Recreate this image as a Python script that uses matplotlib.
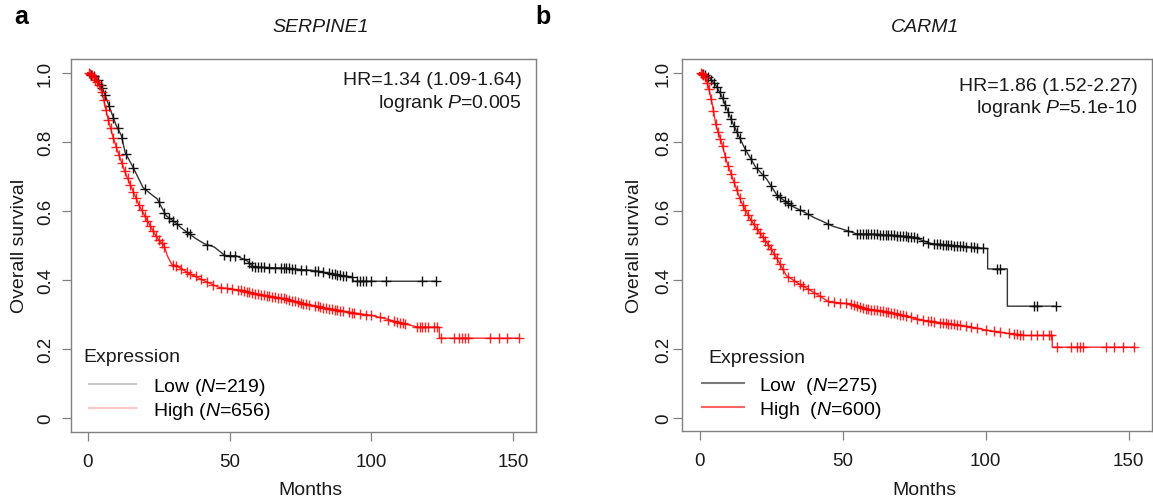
import numpy as np
import matplotlib.pyplot as plt
from matplotlib.lines import Line2D

plt.rcParams['font.family'] = ['Liberation Sans', 'DejaVu Sans']
plt.rcParams['mathtext.fontset'] = 'custom'
plt.rcParams['mathtext.rm'] = 'Liberation Sans'
plt.rcParams['mathtext.it'] = 'Liberation Sans:italic'

# ---- panel a : SERPINE1 ----
a_low_t = [0, 2, 3.6, 5.5, 7.4, 9.9, 11.8, 13.1, 15.6, 17.5, 19.4, 22, 24.4, 26, 27.6, 30.7, 33,
           35.8, 38, 41, 44.6, 48.4, 52.2, 56, 58.5, 69.8, 75, 80, 83, 86.2, 89, 93.2, 93.8, 122.8]
a_low_s = [1.0, 0.99, 0.977, 0.948, 0.905, 0.849, 0.818, 0.77, 0.731, 0.70, 0.668, 0.65, 0.635, 0.61,
           0.586, 0.567, 0.55, 0.533, 0.52, 0.505, 0.495, 0.47, 0.47, 0.456, 0.437, 0.434, 0.43, 0.427,
           0.422, 0.418, 0.413, 0.408, 0.396, 0.396]
a_low_cens = [1, 2, 3.5, 4.5, 5, 6, 7.5, 9, 10.5, 12, 13.5, 16, 20, 25, 27, 28.5, 30, 31.5, 35, 36, 42,
              48, 50, 52, 55, 57, 58, 59, 60, 61, 62, 64, 66, 68, 69, 70, 71, 72, 73, 75, 77, 80, 81,
              83, 85, 86, 87, 88, 89, 90, 91, 93, 95, 96, 97, 98, 100, 105, 118, 122.8]

a_high_t = [0, 1.7, 4.2, 5.5, 6.8, 8.7, 10.6, 13.1, 15.6, 18.1, 20.6, 23.2, 25, 26.9, 28, 29.5, 32,
            35.8, 38, 40.8, 43, 45.9, 50, 54.7, 58, 62.3, 66, 69.8, 73, 76.2, 80, 84, 88.8, 94, 100.1,
            105.2, 108, 111.5, 116.5, 124, 124, 152]
a_high_s = [1.0, 0.991, 0.962, 0.924, 0.876, 0.818, 0.77, 0.712, 0.663, 0.615, 0.577, 0.538, 0.515,
            0.499, 0.47, 0.446, 0.437, 0.418, 0.41, 0.398, 0.39, 0.379, 0.374, 0.369, 0.362, 0.355,
            0.35, 0.345, 0.338, 0.331, 0.325, 0.318, 0.311, 0.304, 0.297, 0.287, 0.28, 0.273, 0.263,
            0.263, 0.231, 0.231]
a_high_cens = [0.3, 0.8, 1.3, 2, 2.6, 3.2, 4, 4.8, 5.6, 6.4, 7.2, 8, 9, 10, 11, 12, 13, 14, 15, 16,
               17, 18, 19, 20, 21, 22, 23, 24, 25, 26, 27, 30, 31, 33, 35, 36, 38, 40, 42, 44, 47,
               49, 51, 53, 54, 55, 56, 57, 58, 59, 60, 61, 62, 63, 64, 65, 66, 67, 68, 69, 70, 71,
               72, 73, 74, 75, 76, 77, 78, 80, 81, 82, 83, 84, 85, 86, 87, 88, 89, 90, 92, 93, 94,
               96, 98, 100, 103, 106, 108, 109, 110, 111, 112, 116, 117, 118, 119, 120, 122, 123,
               124.5, 129, 131, 132, 133, 134, 142, 145, 148, 152]

# ---- panel b : CARM1 ----
b_low_t = [0, 3.2, 5.7, 7.6, 9.5, 11.4, 13.3, 15.8, 19.6, 23.4, 27.1, 30.3, 33, 35.9, 40, 43.5, 46.5,
           49.7, 54.8, 62, 68.6, 74.9, 78, 81.2, 88.7, 95, 100.7, 100.7, 107.6, 107.6, 124.5]
b_low_s = [1.0, 0.988, 0.963, 0.934, 0.896, 0.857, 0.823, 0.78, 0.726, 0.692, 0.644, 0.625, 0.61, 0.599,
           0.58, 0.567, 0.555, 0.547, 0.533, 0.531, 0.528, 0.523, 0.513, 0.504, 0.499, 0.494, 0.49,
           0.431, 0.431, 0.323, 0.323]
b_low_cens = [1, 2, 3, 4, 5, 6, 7, 8, 9, 10, 11, 12, 13, 14, 16, 18, 20, 22, 25, 27, 28, 30, 31, 32,
              35, 38, 45, 52, 55, 56, 57, 58, 59, 60, 61, 62, 63, 64, 65, 66, 67, 68, 69, 70, 71, 72,
              73, 74, 75, 76, 78, 80, 82, 83, 84, 85, 86, 87, 88, 89, 90, 91, 92, 93, 95, 96, 97, 99,
              104, 105, 117, 118, 124.5]

b_high_t = [0, 2, 3.2, 4.5, 5.7, 7.6, 9.5, 12, 14.5, 17.7, 20.8, 24.6, 27.1, 30.3, 34.7, 39.7, 45.3,
            52.2, 58.5, 66.1, 71.1, 78.6, 87.4, 95, 101.3, 107, 113.9, 123.3, 123.3, 152]
b_high_s = [1.0, 0.988, 0.954, 0.905, 0.847, 0.799, 0.741, 0.683, 0.625, 0.576, 0.538, 0.494, 0.46,
            0.412, 0.388, 0.364, 0.335, 0.33, 0.315, 0.306, 0.296, 0.281, 0.272, 0.262, 0.252, 0.245,
            0.238, 0.238, 0.204, 0.204]
b_high_cens = [0.3, 0.8, 1.3, 2, 2.6, 3.2, 4, 4.8, 5.6, 6.4, 7.2, 8, 9, 10, 11, 12, 13, 14, 15, 16,
               17, 18, 19, 20, 21, 22, 23, 24, 25, 26, 27, 28, 29, 31, 33, 35, 36, 38, 40, 42, 45,
               47, 49, 51, 53, 54, 55, 56, 57, 58, 59, 60, 61, 62, 63, 64, 65, 66, 67, 68, 69, 70,
               71, 72, 74, 76, 78, 80, 81, 82, 84, 85, 86, 87, 88, 89, 90, 91, 93, 95, 97, 100,
               103, 105, 108, 110, 111, 112, 113, 116, 118, 120, 122, 123, 125, 130, 132, 133,
               134, 142, 145, 148, 152]

xticks = [0, 50, 100, 150]
yticks = [0, 0.2, 0.4, 0.6, 0.8, 1.0]
ytick_labels = ['0', '0.2', '0.4', '0.6', '0.8', '1.0']

W, H = 1153, 502
fig = plt.figure(figsize=(W / 100, H / 100), dpi=100)
axL = fig.add_axes([70.7 / W, (H - 432.7) / H, 465.3 / W, 372.7 / H])
axR = fig.add_axes([682.3 / W, (H - 432.3) / H, 469.4 / W, 372.3 / H])


def km(ax, t, s, cens, color, mcolor, alpha=1.0):
    ax.plot(t, s, color=color, lw=1.0, alpha=alpha)
    ax.plot(cens, np.interp(cens, t, s), ls='none', marker='+', ms=7, mew=1.0,
            color=mcolor, alpha=alpha)


def style(ax, ypad):
    ax.set_xlim(-6.08, 158.08)
    ax.set_ylim(-0.04, 1.04)
    ax.set_xticks(xticks)
    ax.set_yticks(yticks, labels=ytick_labels, rotation=90, va='center')
    ax.tick_params(axis='both', length=6.5, width=0.9, color='#808080',
                   labelsize=13.5, labelcolor='#1a1a1a')
    ax.tick_params(axis='x', pad=8.5)
    ax.tick_params(axis='y', pad=ypad)
    for sp in ax.spines.values():
        sp.set_color('#808080')
        sp.set_linewidth(1.0)
    ax.set_xlabel('Months', fontsize=14, color='#1a1a1a')
    ax.xaxis.set_label_coords(0.515, -0.133)
    ax.set_ylabel('Overall survival', fontsize=14, color='#1a1a1a')


# panel a
km(axL, a_low_t, a_low_s, a_low_cens, '#333333', '#111111')
km(axL, a_high_t, a_high_s, a_high_cens, '#ff0000', '#ff0000', alpha=0.85)
style(axL, 5.5)
axL.yaxis.set_label_coords(-0.092, 0.5)
axL.text(0.9686, 0.946, 'HR=1.34 (1.09-1.64)', transform=axL.transAxes, ha='right', va='center',
         fontsize=14, color='#1a1a1a')
axL.text(0.9686, 0.882, r'logrank $\mathit{P}$=0.005', transform=axL.transAxes, ha='right',
         va='center', fontsize=14, color='#1a1a1a')
axL.text(0.0277, 0.202, 'Expression', transform=axL.transAxes, ha='left', va='center',
         fontsize=14, color='#1a1a1a')
hL = [Line2D([], [], color='#c8c8c8', lw=1.5), Line2D([], [], color='#ffc4c4', lw=1.5)]
axL.legend(hL, [r'Low ($\mathit{N}$=219)', r'High ($\mathit{N}$=656)'], loc='upper left',
           bbox_to_anchor=(0.0385, 0.150), frameon=False, fontsize=14, handlelength=2.43,
           handletextpad=0.89, labelspacing=0.15, borderpad=0, borderaxespad=0)

# panel b
km(axR, b_low_t, b_low_s, b_low_cens, '#333333', '#111111')
km(axR, b_high_t, b_high_s, b_high_cens, '#ff0000', '#ff0000', alpha=0.85)
style(axR, 1.0)
axR.yaxis.set_label_coords(-0.084, 0.5)
axR.text(0.970, 0.928, 'HR=1.86 (1.52-2.27)', transform=axR.transAxes, ha='right', va='center',
         fontsize=14, color='#1a1a1a')
axR.text(0.970, 0.871, r'logrank $\mathit{P}$=5.1e-10', transform=axR.transAxes, ha='right',
         va='center', fontsize=14, color='#1a1a1a')
axR.text(0.056, 0.199, 'Expression', transform=axR.transAxes, ha='left', va='center',
         fontsize=14, color='#1a1a1a')
hR = [Line2D([], [], color='#7a7a7a', lw=1.5), Line2D([], [], color='#ff6464', lw=1.5)]
axR.legend(hR, [r'Low  ($\mathit{N}$=275)', r'High  ($\mathit{N}$=600)'], loc='upper left',
           bbox_to_anchor=(0.0428, 0.152), frameon=False, fontsize=14, handlelength=2.13,
           handletextpad=0.78, labelspacing=0.15, borderpad=0, borderaxespad=0)

# titles and panel letters
fig.text(321 / W, 1 - 27 / H, 'SERPINE1', ha='center', va='center', fontsize=14,
         style='italic', color='#1a1a1a')
fig.text(925 / W, 1 - 28 / H, 'CARM1', ha='center', va='center', fontsize=14,
         style='italic', color='#1a1a1a')
fig.text(21 / W, 1 - 17 / H, 'a', ha='center', va='center', fontsize=18, fontweight='bold')
fig.text(543 / W, 1 - 17 / H, 'b', ha='center', va='center', fontsize=18, fontweight='bold')

fig.savefig('out.png', dpi=100)
